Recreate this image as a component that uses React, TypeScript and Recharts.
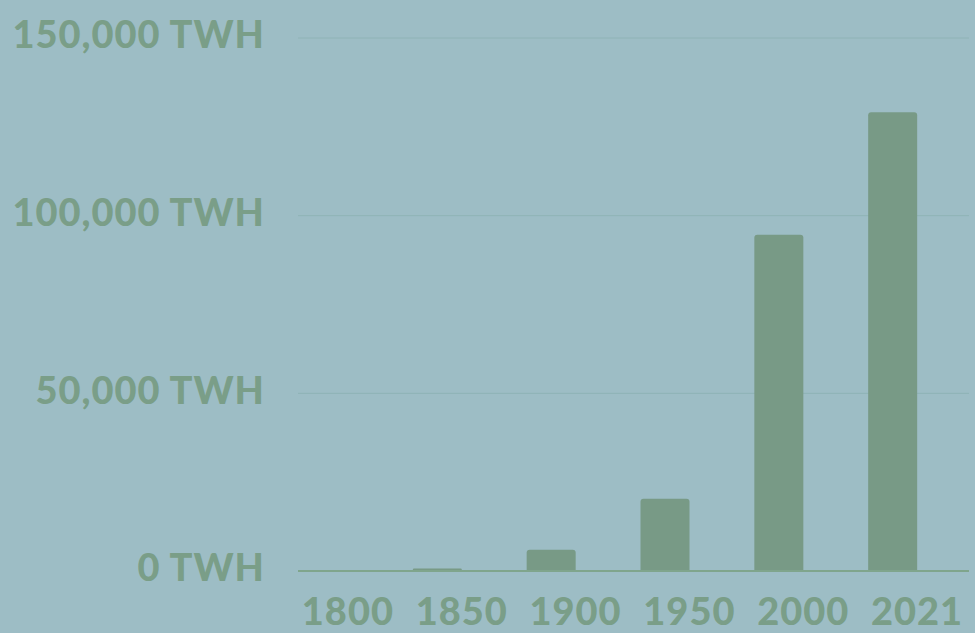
import { Bar, BarChart, CartesianGrid, XAxis, YAxis } from "recharts"

const years = ["1800", "1850", "1900", "1950", "2000", "2021"]
const energyTwh = [300, 700, 6000, 20300, 94600, 129100]
const yTicks = [0, 50000, 100000, 150000]

const BG = "#9DBDC5"
const GREEN = "#789A86"
const TEXT = "#7A9E88"

export default function App() {
  // spacer keeps each bar in the left half of its band, like the original
  const chartData = years.map((year, i) => ({ year, energy: energyTwh[i], spacer: 0 }))

  const tickStyle = {
    fontSize: 38,
    fontWeight: 900,
    fill: TEXT,
    fontFamily: "Lato, sans-serif",
    letterSpacing: 1,
  }

  return (
    <div style={{ position: "absolute", top: 0, left: 0, width: 975, height: 633, background: BG }}>
      <BarChart
        width={975}
        height={633}
        data={chartData}
        margin={{ top: 38, right: 6, left: 0, bottom: 0 }}
        barCategoryGap={8}
        barGap={0}
      >
        <CartesianGrid vertical={false} stroke="#8FB3B6" strokeWidth={1} />
        <XAxis
          dataKey="year"
          padding={{ left: -7, right: -5 }}
          height={62}
          tickSize={0}
          tickMargin={27}
          axisLine={{ stroke: "#7FA58C", strokeWidth: 2 }}
          tickLine={false}
          tick={tickStyle}
          interval={0}
        />
        <YAxis
          width={298}
          domain={[0, 150000]}
          ticks={yTicks}
          axisLine={false}
          tickLine={false}
          tickSize={0}
          tickMargin={33}
          tick={{ ...tickStyle, dy: -3 }}
          tickFormatter={(value) => `${value.toLocaleString("en-US")} TWH`}
        />
        <Bar dataKey="energy" fill={GREEN} radius={[3, 3, 0, 0]} isAnimationActive={false} />
        <Bar dataKey="spacer" fill="none" isAnimationActive={false} />
      </BarChart>
    </div>
  )
}
